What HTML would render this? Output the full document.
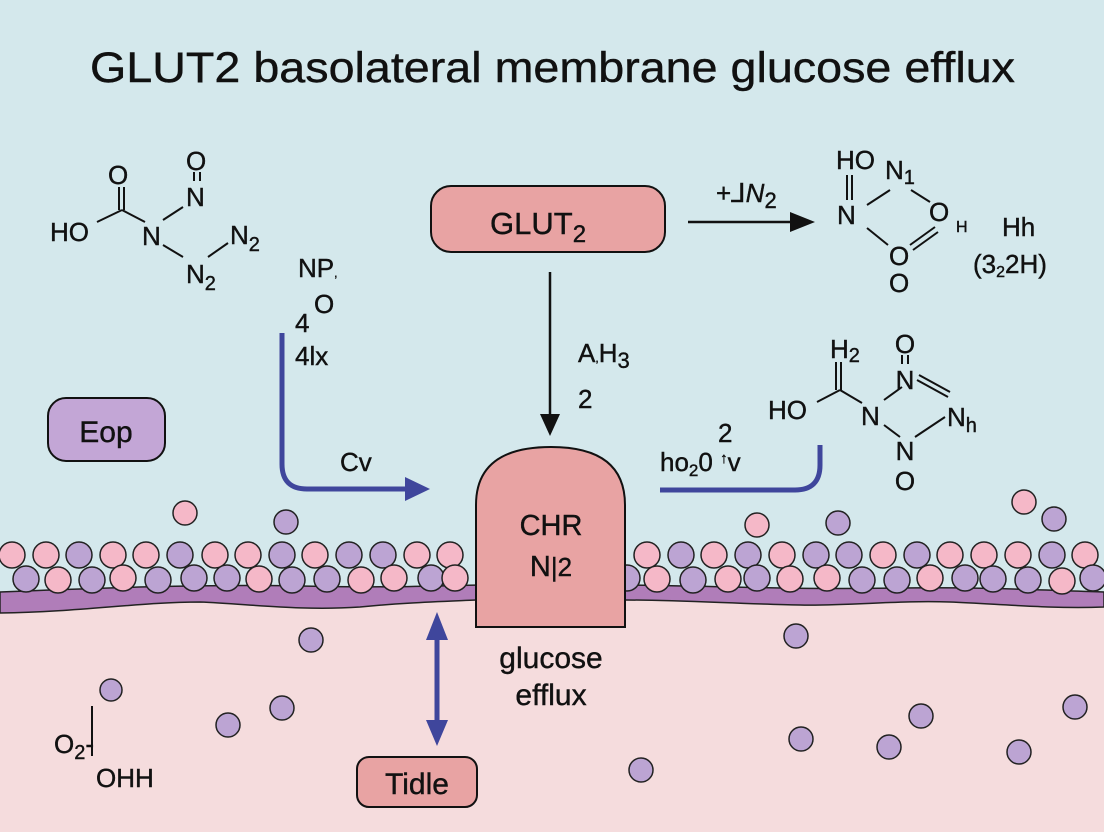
<!DOCTYPE html>
<html><head><meta charset="utf-8"><style>html,body{margin:0;padding:0}svg{display:block}text{font-family:"Liberation Sans",sans-serif;fill:#111;stroke:#111;stroke-width:0.4}</style></head>
<body>
<svg width="1104" height="832" viewBox="0 0 1104 832" xmlns="http://www.w3.org/2000/svg">
<rect width="1104" height="832" fill="#f5dcdd"/>
<path d="M0,0 H1104 V600 H0z" fill="#d4e8ec"/>
<path d="M0,592 C100,588 200,584 300,586 C380,588 430,586 480,585 L625,585 C720,586 800,590 900,588 C980,587 1040,590 1104,592 L1104,607 C1050,609 1000,604 950,602 C900,600 850,606 800,605 C740,604 680,600 625,600 L476,600 C430,602 400,603 360,607 C300,611 250,604 200,602 C140,602 80,612 0,613z" fill="#b07db9" stroke="#222" stroke-width="1.5"/>
<g stroke="#222" stroke-width="1.5">
<circle cx="12" cy="555" r="13" fill="#f5b8c8"/><circle cx="46" cy="555" r="13" fill="#f5b8c8"/><circle cx="79" cy="555" r="13" fill="#bca4d3"/><circle cx="113" cy="555" r="13" fill="#f5b8c8"/><circle cx="146" cy="555" r="13" fill="#f5b8c8"/><circle cx="180" cy="555" r="13" fill="#bca4d3"/><circle cx="215" cy="555" r="13" fill="#f5b8c8"/><circle cx="248" cy="555" r="13" fill="#f5b8c8"/><circle cx="282" cy="555" r="13" fill="#bca4d3"/><circle cx="315" cy="555" r="13" fill="#f5b8c8"/><circle cx="349" cy="555" r="13" fill="#bca4d3"/><circle cx="383" cy="555" r="13" fill="#bca4d3"/><circle cx="417" cy="555" r="13" fill="#f5b8c8"/><circle cx="450" cy="555" r="13" fill="#f5b8c8"/>
<circle cx="26" cy="579" r="13" fill="#bca4d3"/><circle cx="58" cy="580" r="13" fill="#f5b8c8"/><circle cx="92" cy="580" r="13" fill="#bca4d3"/><circle cx="123" cy="578" r="13" fill="#f5b8c8"/><circle cx="158" cy="580" r="13" fill="#bca4d3"/><circle cx="194" cy="578" r="13" fill="#bca4d3"/><circle cx="227" cy="578" r="13" fill="#bca4d3"/><circle cx="259" cy="579" r="13" fill="#f5b8c8"/><circle cx="292" cy="580" r="13" fill="#bca4d3"/><circle cx="327" cy="579" r="13" fill="#bca4d3"/><circle cx="361" cy="580" r="13" fill="#f5b8c8"/><circle cx="394" cy="578" r="13" fill="#f5b8c8"/><circle cx="431" cy="578" r="13" fill="#bca4d3"/><circle cx="455" cy="578" r="13" fill="#f5b8c8"/>
<circle cx="185" cy="513" r="12" fill="#f5b8c8"/><circle cx="286" cy="522" r="12" fill="#bca4d3"/>
<circle cx="647" cy="555" r="13" fill="#f5b8c8"/><circle cx="681" cy="555" r="13" fill="#bca4d3"/><circle cx="714" cy="555" r="13" fill="#f5b8c8"/><circle cx="748" cy="555" r="13" fill="#bca4d3"/><circle cx="782" cy="555" r="13" fill="#f5b8c8"/><circle cx="816" cy="555" r="13" fill="#bca4d3"/><circle cx="849" cy="555" r="13" fill="#bca4d3"/><circle cx="883" cy="555" r="13" fill="#f5b8c8"/><circle cx="917" cy="555" r="13" fill="#bca4d3"/><circle cx="950" cy="555" r="13" fill="#f5b8c8"/><circle cx="984" cy="555" r="13" fill="#f5b8c8"/><circle cx="1018" cy="555" r="13" fill="#f5b8c8"/><circle cx="1052" cy="555" r="13" fill="#bca4d3"/><circle cx="1085" cy="555" r="13" fill="#f5b8c8"/>
<circle cx="627" cy="578" r="13" fill="#bca4d3"/><circle cx="657" cy="579" r="13" fill="#f5b8c8"/><circle cx="693" cy="580" r="13" fill="#bca4d3"/><circle cx="728" cy="579" r="13" fill="#f5b8c8"/><circle cx="757" cy="578" r="13" fill="#bca4d3"/><circle cx="790" cy="579" r="13" fill="#f5b8c8"/><circle cx="827" cy="578" r="13" fill="#f5b8c8"/><circle cx="862" cy="580" r="13" fill="#bca4d3"/><circle cx="897" cy="580" r="13" fill="#bca4d3"/><circle cx="930" cy="578" r="13" fill="#f5b8c8"/><circle cx="965" cy="578" r="13" fill="#bca4d3"/><circle cx="993" cy="579" r="13" fill="#bca4d3"/><circle cx="1028" cy="580" r="13" fill="#bca4d3"/><circle cx="1062" cy="581" r="13" fill="#f5b8c8"/><circle cx="1093" cy="578" r="13" fill="#bca4d3"/>
<circle cx="757" cy="525" r="12" fill="#f5b8c8"/><circle cx="838" cy="523" r="12" fill="#bca4d3"/><circle cx="1024" cy="502" r="12" fill="#f5b8c8"/><circle cx="1054" cy="519" r="12" fill="#bca4d3"/>
<circle cx="311" cy="640" r="12" fill="#bca4d3"/><circle cx="111" cy="690" r="11" fill="#bca4d3"/><circle cx="228" cy="725" r="12" fill="#bca4d3"/><circle cx="282" cy="708" r="12" fill="#bca4d3"/>
<circle cx="796" cy="636" r="12" fill="#bca4d3"/><circle cx="641" cy="770" r="12" fill="#bca4d3"/><circle cx="801" cy="739" r="12" fill="#bca4d3"/><circle cx="889" cy="747" r="12" fill="#bca4d3"/><circle cx="921" cy="716" r="12" fill="#bca4d3"/><circle cx="1019" cy="752" r="12" fill="#bca4d3"/><circle cx="1075" cy="707" r="12" fill="#bca4d3"/>
</g>
<path d="M476,627 V505 Q476,447 551,447 Q625,447 625,505 V627z" fill="#e8a3a3" stroke="#111" stroke-width="2"/>
<text x="551" y="535" font-size="29" text-anchor="middle">CHR</text>
<text x="551" y="576" font-size="29" text-anchor="middle">N<tspan font-size="26">|2</tspan></text>
<text x="551" y="668" font-size="30" text-anchor="middle">glucose</text>
<text x="551" y="705" font-size="30" text-anchor="middle">efflux</text>
<text x="90" y="82" font-size="43" textLength="925" lengthAdjust="spacingAndGlyphs">GLUT2 basolateral membrane glucose efflux</text>
<rect x="431" y="186" width="234" height="66" rx="20" fill="#e8a3a3" stroke="#111" stroke-width="2"/>
<text x="490" y="234" font-size="31">GLUT<tspan font-size="24" dy="8">2</tspan></text>
<line x1="550" y1="272" x2="550" y2="420" stroke="#111" stroke-width="2.5"/>
<path d="M540,414 L560,414 L550,436z" fill="#111"/>
<text x="578" y="362" font-size="26">A<tspan font-size="12">,</tspan>H<tspan font-size="22" dy="6">3</tspan></text>
<text x="578" y="408" font-size="26">2</text>
<line x1="688" y1="222" x2="795" y2="222" stroke="#111" stroke-width="2.5"/>
<path d="M790,212 L815,222 L790,232z" fill="#111"/>
<text x="716" y="202" font-size="26">+⅃<tspan font-style="italic">N</tspan><tspan font-size="22" dy="6">2</tspan></text>
<rect x="48" y="398" width="117" height="63" rx="18" fill="#c3a6d6" stroke="#111" stroke-width="2"/>
<text x="106" y="442" font-size="30" text-anchor="middle">Eop</text>
<rect x="357" y="757" width="120" height="50" rx="12" fill="#e8a3a3" stroke="#111" stroke-width="2"/>
<text x="417" y="794" font-size="30" text-anchor="middle">Tidle</text>
<path d="M282,333 V464 Q282,489 307,489 H410" fill="none" stroke="#3f469c" stroke-width="5"/>
<path d="M405,477 L430,489 L405,501z" fill="#3f469c"/>
<text x="340" y="471" font-size="26">Cv</text>
<path d="M660,490 H795 Q820,490 820,465 V445" fill="none" stroke="#3f469c" stroke-width="5"/>
<line x1="437" y1="630" x2="437" y2="730" stroke="#3f469c" stroke-width="5"/>
<path d="M426,640 L437,612 L448,640z M426,720 L437,746 L448,720z" fill="#3f469c"/>
<g stroke="#111" stroke-width="2" fill="none">
<line x1="97" y1="222" x2="122" y2="210"/><line x1="122" y1="210" x2="145" y2="222"/><line x1="119" y1="187" x2="119" y2="210"/><line x1="124" y1="187" x2="124" y2="210"/>
<line x1="163" y1="220" x2="183" y2="207"/><line x1="163" y1="245" x2="183" y2="257"/><line x1="208" y1="257" x2="228" y2="243"/>
<line x1="194" y1="172" x2="194" y2="181"/><line x1="200" y1="172" x2="200" y2="181"/>
</g>
<text x="50" y="241" font-size="26">HO</text>
<text x="108" y="184" font-size="26">O</text>
<text x="142" y="245" font-size="26">N</text>
<text x="186" y="170" font-size="26">O</text>
<text x="186" y="206" font-size="26">N</text>
<text x="230" y="244" font-size="26">N<tspan font-size="20" dy="7">2</tspan></text>
<text x="186" y="283" font-size="26">N<tspan font-size="20" dy="7">2</tspan></text>
<text x="298" y="277" font-size="26">NP<tspan font-size="12">,</tspan></text>
<text x="295" y="332" font-size="26">4</text><text x="314" y="313" font-size="26">O</text>
<text x="295" y="365" font-size="26">4lx</text>
<g stroke="#111" stroke-width="2" fill="none">
<line x1="847" y1="175" x2="847" y2="200"/><line x1="852" y1="175" x2="852" y2="200"/>
<line x1="867" y1="205" x2="890" y2="190"/><line x1="911" y1="190" x2="930" y2="202"/>
<line x1="867" y1="228" x2="888" y2="245"/><line x1="910" y1="245" x2="935" y2="227"/><line x1="913" y1="250" x2="938" y2="232"/>
</g>
<text x="836" y="169" font-size="26">HO</text>
<text x="885" y="179" font-size="26">N<tspan font-size="20" dy="5">1</tspan></text>
<text x="837" y="224" font-size="26">N</text>
<text x="929" y="221" font-size="26">O</text><text x="956" y="232" font-size="16">H</text>
<text x="889" y="265" font-size="26">O</text>
<text x="889" y="292" font-size="26">O</text>
<text x="1002" y="236" font-size="26">Hh</text>
<text x="973" y="273" font-size="26">(3<tspan font-size="16" dy="4">2</tspan><tspan dy="-4">2H)</tspan></text>
<g stroke="#111" stroke-width="2" fill="none">
<line x1="817" y1="402" x2="840" y2="390"/><line x1="840" y1="390" x2="862" y2="403"/><line x1="836" y1="362" x2="836" y2="390"/><line x1="841" y1="362" x2="841" y2="390"/>
<line x1="884" y1="400" x2="902" y2="387"/><line x1="884" y1="425" x2="900" y2="437"/><line x1="915" y1="437" x2="945" y2="417"/>
<line x1="917" y1="380" x2="948" y2="397"/><line x1="919" y1="375" x2="950" y2="392"/>
<line x1="902" y1="355" x2="902" y2="364"/><line x1="908" y1="355" x2="908" y2="364"/>
</g>
<text x="830" y="358" font-size="26">H<tspan font-size="20" dy="4">2</tspan></text>
<text x="768" y="419" font-size="26">HO</text>
<text x="861" y="425" font-size="26">N</text>
<text x="905" y="353" font-size="26" text-anchor="middle">O</text>
<text x="905" y="389" font-size="26" text-anchor="middle">N</text>
<text x="947" y="426" font-size="26">N<tspan font-size="20" dy="6">h</tspan></text>
<text x="905" y="460" font-size="26" text-anchor="middle">N</text>
<text x="905" y="490" font-size="26" text-anchor="middle">O</text>
<text x="718" y="442" font-size="26">2</text>
<text x="660" y="471" font-size="26">ho<tspan font-size="17" dy="5">2</tspan><tspan dy="-5">0 </tspan><tspan font-size="15" dy="-8">↑</tspan><tspan dy="8">v</tspan></text>
<line x1="92" y1="706" x2="92" y2="756" stroke="#111" stroke-width="2"/>
<text x="54" y="753" font-size="26">O<tspan font-size="20" dy="6">2</tspan><tspan dy="-6">-</tspan></text>
<text x="96" y="787" font-size="26">OHH</text>
</svg>
</body></html>
